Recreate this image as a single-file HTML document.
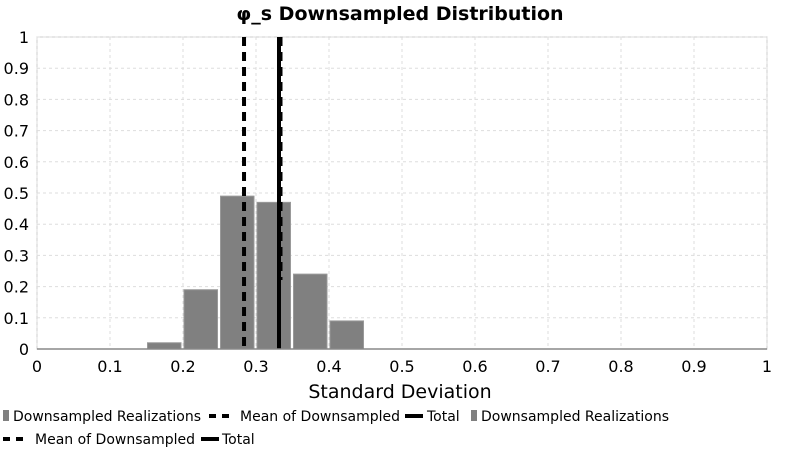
<!DOCTYPE html>
<html><head><meta charset="utf-8"><style>
body{margin:0;background:#fff;font-family:"DejaVu Sans","Liberation Sans",sans-serif}
</style></head><body>
<svg width="800" height="450" xmlns="http://www.w3.org/2000/svg">
<text x="400" y="20" text-anchor="middle" font-size="19" font-weight="bold">φ_s Downsampled Distribution</text>
<rect x="37" y="37" width="730" height="312" fill="#fff" stroke="#ccc"/>
<g id="grid"></g><g id="bars"></g><g id="lines"></g><g id="axes"></g>
<text x="400" y="398" text-anchor="middle" font-size="19">Standard Deviation</text>
<g font-size="14">
<g><rect x="3" y="410" width="6" height="11" fill="#808080"/><text x="13" y="421">Downsampled Realizations</text></g>
<g><line x1="209" y1="416" x2="232" y2="416" stroke="#000" stroke-width="4" stroke-dasharray="7,6"/><text x="240" y="421">Mean of Downsampled</text></g>
<g><line x1="405" y1="416" x2="423" y2="416" stroke="#000" stroke-width="4"/><text x="427" y="421">Total</text></g>
<g><rect x="471" y="410" width="6" height="11" fill="#808080"/><text x="481" y="421">Downsampled Realizations</text></g>
<g><line x1="3" y1="439" x2="26" y2="439" stroke="#000" stroke-width="4" stroke-dasharray="7,6"/><text x="35" y="444">Mean of Downsampled</text></g>
<g><line x1="201" y1="439" x2="219" y2="439" stroke="#000" stroke-width="4"/><text x="222" y="444">Total</text></g>
</g>
</svg>
<script>
const binStarts=[0.15,0.2,0.25,0.3,0.35,0.4];
const binValues=[0.02,0.19,0.49,0.47,0.24,0.09];
const binWidth=0.05;
const meanValue=0.2836;
const totalValue=0.3315;
const ticks=[0,0.1,0.2,0.3,0.4,0.5,0.6,0.7,0.8,0.9,1];
const tickLabels=["0","0.1","0.2","0.3","0.4","0.5","0.6","0.7","0.8","0.9","1"];
const NS="http://www.w3.org/2000/svg";
const X=v=>37+v*730, Y=v=>349-v*312;
function mk(t,a,p){const e=document.createElementNS(NS,t);for(const k in a)e.setAttribute(k,a[k]);p.appendChild(e);return e;}
const grid=document.getElementById('grid'),bars=document.getElementById('bars'),lines=document.getElementById('lines'),axes=document.getElementById('axes');
ticks.forEach((t,i)=>{
 let g=mk('line',{x1:X(t),x2:X(t),y1:37,y2:349,stroke:'#ddd','stroke-dasharray':'3,3'},grid);
 
 
 g=mk('line',{x1:37,x2:767,y1:Y(t),y2:Y(t),stroke:'#ddd','stroke-dasharray':'3,3'},grid);
 
 
 let tx=mk('text',{x:X(t),y:372,'text-anchor':'middle','font-size':16},axes);tx.textContent=tickLabels[i];
 
 
 let ty=mk('text',{x:29,y:Y(t)+6,'text-anchor':'end','font-size':16},axes);ty.textContent=tickLabels[i];
 
 
});
binStarts.forEach((s,i)=>{
 const r=mk('rect',{x:X(s)+1,y:Y(binValues[i]),width:X(s+binWidth)-X(s)-3,height:Y(0)-Y(binValues[i]),fill:'#808080',stroke:'#999','stroke-width':1},bars);
 
 
});
let ax=mk('line',{x1:37,x2:767,y1:349,y2:349,stroke:'#888','stroke-width':1.5},axes);


let ml=mk('line',{x1:X(meanValue),x2:X(meanValue),y1:37,y2:349,stroke:'#000','stroke-width':4,'stroke-dasharray':'9,6'},lines);


let ml2=mk('line',{x1:X(totalValue)+2,x2:X(totalValue)+2,y1:37,y2:280,stroke:'#000','stroke-width':3,'stroke-dasharray':'9,6'},lines);


let tl=mk('line',{x1:X(totalValue),x2:X(totalValue),y1:37,y2:349,stroke:'#000','stroke-width':4},lines);


</script>
</body></html>
